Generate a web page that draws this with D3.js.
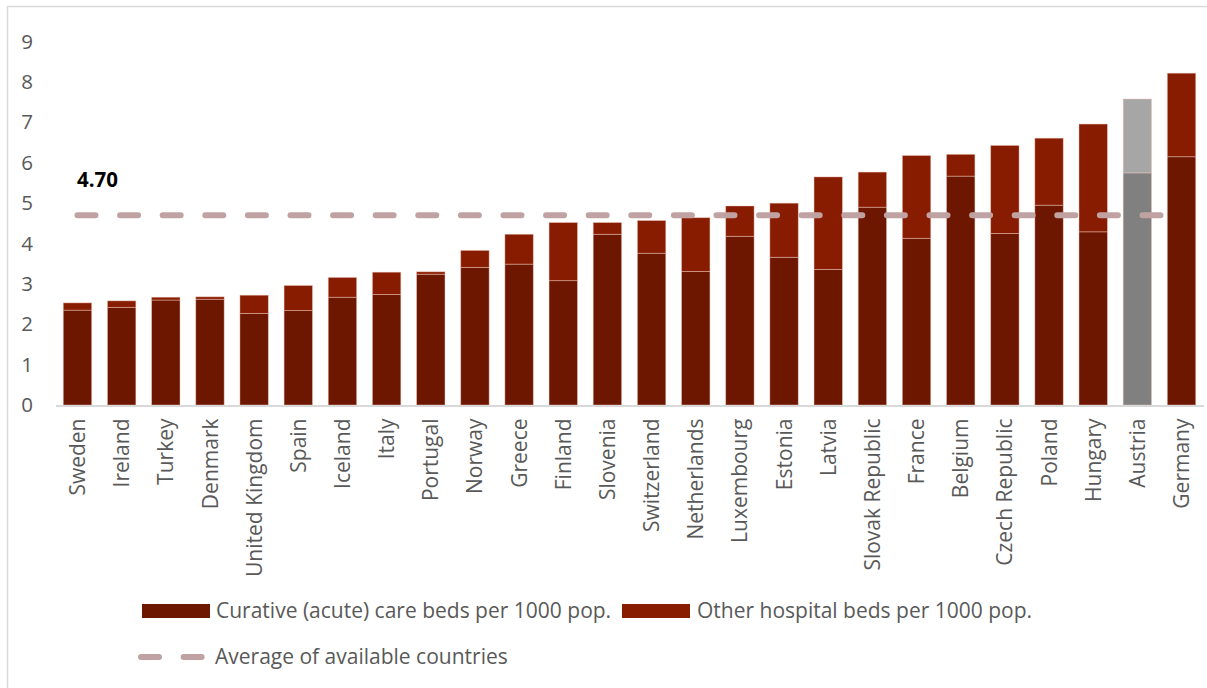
<!DOCTYPE html>
<html>
<head>
<meta charset="utf-8">
<script src="https://cdn.jsdelivr.net/npm/d3@7"></script>
<style>
  html, body { margin: 0; padding: 0; background: #ffffff; }
  svg { display: block; font-family: "Open Sans", "Noto Sans", sans-serif; }
</style>
</head>
<body>
<svg id="chart" width="1207" height="688"></svg>
<script>
// Hospital beds per 1000 population, by country (sorted by total)
const countries = ["Sweden", "Ireland", "Turkey", "Denmark", "United Kingdom", "Spain", "Iceland",
  "Italy", "Portugal", "Norway", "Greece", "Finland", "Slovenia", "Switzerland", "Netherlands",
  "Luxembourg", "Estonia", "Latvia", "Slovak Republic", "France", "Belgium", "Czech Republic",
  "Poland", "Hungary", "Austria", "Germany"];

const curativeBeds = [2.35, 2.42, 2.60, 2.62, 2.27, 2.34, 2.67, 2.74, 3.24, 3.41, 3.49, 3.08, 4.23,
  3.76, 3.31, 4.18, 3.66, 3.36, 4.90, 4.13, 5.67, 4.25, 4.95, 4.29, 5.75, 6.15];

const otherBeds = [0.18, 0.16, 0.07, 0.06, 0.45, 0.62, 0.49, 0.55, 0.06, 0.42, 0.74, 1.44, 0.29,
  0.81, 1.33, 0.75, 1.34, 2.29, 0.87, 2.05, 0.54, 2.18, 1.66, 2.67, 1.83, 2.07];

const averageBeds = 4.70;
const averageLabel = "4.70";

const yTicks = [0, 1, 2, 3, 4, 5, 6, 7, 8, 9];

const seriesNames = ["Curative (acute) care beds per 1000 pop.", "Other hospital beds per 1000 pop."];
const averageName = "Average of available countries";

// Country shown in grey tones
const greyCountry = "Austria";

const colors = {
  curative: "#6e1700",
  other: "#881c00",
  curativeGrey: "#808080",
  otherGrey: "#a6a6a6",
  average: "#c0a2a2",
  text: "#595959",
  axis: "#d9d9d9"
};

const svg = d3.select("#chart");

// chart frame
svg.append("path")
  .attr("d", "M7.5,688 V6.5 H1207")
  .attr("fill", "none")
  .attr("stroke", colors.axis)
  .attr("stroke-width", 1.5);

const x = d3.scaleBand()
  .domain(countries)
  .range([55.4, 1203.6])
  .paddingInner(0.357)
  .paddingOuter(0.1785);

const y = d3.scaleLinear()
  .domain([0, 9])
  .range([405, 41.7]);

const rows = countries.map((c, i) => ({
  country: c,
  curative: curativeBeds[i],
  other: otherBeds[i]
}));

const stack = d3.stack().keys(["curative", "other"]);
const layers = stack(rows);

const fillFor = (key, d) => {
  const grey = d.data.country === greyCountry;
  if (key === "curative") return grey ? colors.curativeGrey : colors.curative;
  return grey ? colors.otherGrey : colors.other;
};

const barsG = svg.append("g");
layers.forEach(layer => {
  barsG.append("g")
    .selectAll("rect")
    .data(layer)
    .join("rect")
    .attr("x", d => x(d.data.country))
    .attr("width", x.bandwidth())
    .attr("y", d => y(d[1]))
    .attr("height", d => y(d[0]) - y(d[1]))
    .attr("fill", d => fillFor(layer.key, d))
    .attr("stroke", "rgba(240,200,190,0.55)")
    .attr("stroke-width", 0.8);
});

// x axis
const xAxis = svg.append("g")
  .attr("transform", `translate(0,${y(0) + 0.5})`)
  .call(d3.axisBottom(x).tickSize(0).tickPadding(0));
xAxis.select(".domain")
  .attr("stroke", colors.axis)
  .attr("stroke-width", 2);
xAxis.selectAll("text")
  .attr("font-family", "'Open Sans', sans-serif")
  .attr("font-size", 21)
  .attr("fill", colors.text)
  .attr("text-anchor", "end")
  .attr("transform", "rotate(-90)")
  .attr("x", -13)
  .attr("y", 0)
  .attr("dy", "0.36em");

// y axis labels
const yAxis = svg.append("g")
  .attr("transform", "translate(36,0)")
  .call(d3.axisLeft(y).tickValues(yTicks).tickFormat(d3.format("d")).tickSize(0).tickPadding(3));
yAxis.select(".domain").remove();
yAxis.selectAll("text")
  .attr("font-family", "'Open Sans', sans-serif")
  .attr("font-size", 20.5)
  .attr("fill", colors.text);

// average line
const first = countries[0], last = countries[countries.length - 1];
const avgLine = d3.line()
  .x(d => x(d) + x.bandwidth() / 2)
  .y(() => y(averageBeds));
svg.append("path")
  .datum([first, last])
  .attr("d", avgLine)
  .attr("fill", "none")
  .attr("stroke", colors.average)
  .attr("stroke-width", 6)
  .attr("stroke-linecap", "round")
  .attr("stroke-dasharray", "18 24.6");

svg.append("text")
  .attr("x", 77)
  .attr("y", 187)
  .attr("font-family", "'Open Sans', sans-serif")
  .attr("font-weight", "bold")
  .attr("font-size", 20.5)
  .attr("fill", "#000000")
  .text(averageLabel);

// legend
const legend = svg.append("g").attr("font-family", "'Open Sans', sans-serif").attr("font-size", 21).attr("fill", colors.text);
const legendItems = [
  { name: seriesNames[0], color: colors.curative, sx: 142, tx: 216 },
  { name: seriesNames[1], color: colors.other, sx: 622, tx: 697 }
];
legendItems.forEach(it => {
  legend.append("rect")
    .attr("x", it.sx).attr("y", 604).attr("width", 68).attr("height", 14)
    .attr("fill", it.color);
  legend.append("text")
    .attr("x", it.tx).attr("y", 611).attr("dy", "0.35em")
    .text(it.name);
});
legend.append("path")
  .attr("d", "M141,657 H203")
  .attr("stroke", colors.average)
  .attr("stroke-width", 6)
  .attr("stroke-linecap", "round")
  .attr("stroke-dasharray", "18 24.6");
legend.append("text")
  .attr("x", 215).attr("y", 657).attr("dy", "0.35em")
  .text(averageName);
</script>
</body>
</html>
